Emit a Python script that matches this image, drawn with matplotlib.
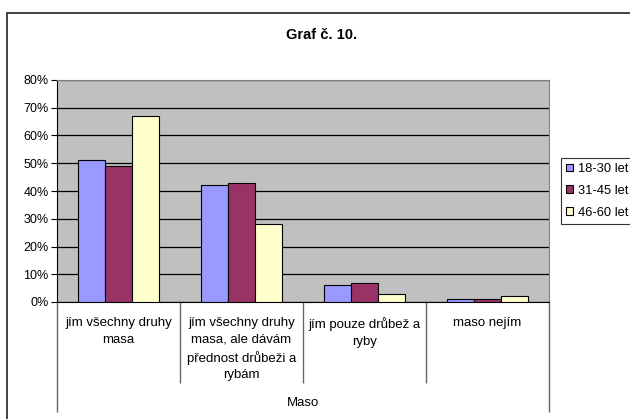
import numpy as np
import matplotlib.pyplot as plt
from matplotlib.patches import Rectangle
from matplotlib.ticker import FuncFormatter

plt.rcParams['font.family'] = ['Liberation Sans', 'DejaVu Sans']

categories = ['jím všechny druhy\nmasa',
              'jím všechny druhy\nmasa, ale dávám\npřednost drůbeži a\nrybám',
              'jím pouze drůbež a\nryby',
              'maso nejím']
series = ['18-30 let', '31-45 let', '46-60 let']
values_18_30 = [51, 42, 6, 1]
values_31_45 = [49, 43, 7, 1]
values_46_60 = [67, 28, 3, 2]
colors = ['#9999FF', '#993366', '#FFFFCC']

W, H = 630, 419
fig = plt.figure(figsize=(W / 100, H / 100), dpi=100)

# outer chart frame (runs off the right and bottom edges)
fig.patches.append(Rectangle((7 / W, -0.1), 1.2, 1 - 13 / H + 0.1,
                             transform=fig.transFigure, fill=False,
                             edgecolor='#222222', lw=1.2))

ax = fig.add_axes([57 / W, 1 - 302 / H, (549 - 57) / W, (302 - 80) / H])
ax.set_facecolor('#C0C0C0')

x = np.arange(len(categories))
w = 0.22
for i, (vals, name) in enumerate(zip([values_18_30, values_31_45, values_46_60], series)):
    ax.bar(x + (i - 1) * w, vals, w, color=colors[i], edgecolor='black',
           lw=0.8, label=name, zorder=3)

ax.set_xlim(-0.5, len(categories) - 0.5)
ax.set_ylim(0, 80)
ax.set_yticks(range(0, 81, 10))
ax.yaxis.set_major_formatter(FuncFormatter(lambda v, p: f'{v:.0f}%'))
ax.yaxis.grid(True, color='black', lw=0.9, zorder=1)
ax.tick_params(axis='y', length=4, width=0.8, labelsize=9, pad=2)

ax.set_xticks(x)
ax.set_xticklabels(categories, fontsize=9.5, linespacing=1.48, va='top')
ax.tick_params(axis='x', length=0, pad=11)

for s in ['top', 'right']:
    ax.spines[s].set_color('#808080')
for s in ['left', 'bottom']:
    ax.spines[s].set_color('black')

# category separators below the axis
xt = ax.get_xaxis_transform()
ax.vlines(x[:-1] + 0.5, -0.365, 0, transform=xt, colors='#666666', lw=1, clip_on=False)
ax.vlines([-0.5, len(categories) - 0.5], -0.495, 0, transform=xt, colors='#666666', lw=1, clip_on=False)

ax.text(0.5, -0.455, 'Maso', transform=ax.transAxes, ha='center', va='center', fontsize=9.5)

fig.text(322 / W, 1 - 35 / H, 'Graf č. 10.', ha='center', va='center',
         fontsize=10.5, fontweight='bold')

leg = ax.legend(loc='upper left', bbox_to_anchor=(561 / W, 1 - 158 / H),
                bbox_transform=fig.transFigure, fontsize=9.3, frameon=True,
                fancybox=False, edgecolor='black', handlelength=0.55,
                handleheight=0.55, handletextpad=0.35, borderpad=0.4,
                labelspacing=0.75, borderaxespad=0)
leg.get_frame().set_linewidth(0.8)

fig.savefig('out.png', dpi=100)
